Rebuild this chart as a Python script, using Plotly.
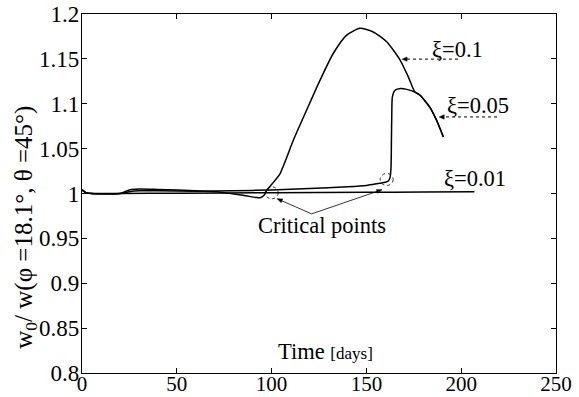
import plotly.graph_objects as go

# ---- data ----
x_xi001 = [0, 2, 5, 20, 50, 100, 150, 180, 207]
y_xi001 = [1.004, 1.001, 1.0, 1.0, 1.0003, 1.0008, 1.0013, 1.0016, 1.002]

x_xi005 = [0, 2, 5, 20, 25, 30, 40, 60, 80, 100, 120, 140, 150, 157, 160, 161.5,
           162.5, 163.0, 163.2, 163.4, 163.7, 165.1, 168.0, 171.3, 175.6, 178.3,
           183.5, 187.0, 190.6]
y_xi005 = [1.004, 1.001, 1.0, 1.0, 1.002, 1.003, 1.003, 1.0025, 1.003, 1.004, 1.0055,
           1.0075, 1.009, 1.0115, 1.0125, 1.014, 1.018, 1.03, 1.06, 1.09, 1.1076,
           1.115, 1.117, 1.116, 1.113, 1.1095, 1.096, 1.0816, 1.063]

x_xi01 = [0, 2, 5, 20, 25, 30, 40, 60, 72.8, 85, 92, 94, 96, 97.4, 100, 104.4,
          111.4, 118.5, 125.5, 132.5, 139.6, 146.6, 153.6, 160.7, 167.7, 172.1,
          175.6, 178.3, 183.5, 187.0, 190.6]
y_xi01 = [1.004, 1.001, 1.0, 1.0, 1.004, 1.005, 1.0045, 1.003, 1.0015, 0.998,
          0.9955, 0.9952, 0.998, 1.0034, 1.01, 1.022, 1.059, 1.093, 1.126, 1.156,
          1.1765, 1.184, 1.180, 1.169, 1.149, 1.130, 1.113, 1.1095, 1.096,
          1.0816, 1.063]

x_ticks = [0, 50, 100, 150, 200, 250]
y_ticks = [0.8, 0.85, 0.9, 0.95, 1.0, 1.05, 1.1, 1.15, 1.2]
y_tick_labels = ["0.8", "0.85", "0.9", "0.95", "1", "1.05", "1.1", "1.15", "1.2"]

FONT = "Liberation Serif"
X_RANGE = [0, 250]
Y_RANGE = [0.8, 1.2]
W, H = 579, 397
M = dict(l=82, r=23, t=14, b=24)
PX_X = (W - M["l"] - M["r"]) / (X_RANGE[1] - X_RANGE[0])   # px per day
PX_Y = (H - M["t"] - M["b"]) / (Y_RANGE[1] - Y_RANGE[0])   # px per unit


def arrow_head(hx, hy, tx, ty, length=6.0, half=2.6):
    """Triangle path (data coords) for an arrowhead at (hx,hy) pointing away from (tx,ty)."""
    dx = (hx - tx) * PX_X
    dy = (hy - ty) * PX_Y
    n = (dx * dx + dy * dy) ** 0.5
    ux, uy = dx / n, dy / n
    bx, by = -ux * length, -uy * length
    px, py = -uy * half, ux * half
    p1 = (hx + (bx + px) / PX_X, hy + (by + py) / PX_Y)
    p2 = (hx + (bx - px) / PX_X, hy + (by - py) / PX_Y)
    return dict(type="path",
                path=f"M {hx},{hy} L {p1[0]},{p1[1]} L {p2[0]},{p2[1]} Z",
                fillcolor="black", line=dict(color="black", width=0.5))


fig = go.Figure()
for xs, ys, name in [(x_xi001, y_xi001, "ξ=0.01"),
                     (x_xi005, y_xi005, "ξ=0.05"),
                     (x_xi01, y_xi01, "ξ=0.1")]:
    fig.add_trace(go.Scatter(x=xs, y=ys, mode="lines", name=name,
                             line=dict(color="black", width=1.5, shape="spline",
                                       smoothing=0.6)))

annotations = []
shapes = []
ANN = 22.5

# curve labels with dotted leader arrows
labels = [
    ("ξ=0.1", 198.0, 1.160, 198.3, 168.8, 1.1497),
    ("ξ=0.05", 208.8, 1.0985, 218.9, 188.4, 1.0853),
]
for txt, tx, ty, tail_x, head_x, yy in labels:
    annotations.append(dict(x=tx, y=ty, text=txt, showarrow=False,
                            font=dict(family=FONT, size=ANN, color="black"),
                            xanchor="center", yanchor="middle"))
    shapes.append(dict(type="line", x0=tail_x, x1=head_x + 2, y0=yy, y1=yy,
                       line=dict(color="black", width=1, dash="dot")))
    shapes.append(arrow_head(head_x, yy, tail_x, yy, length=5, half=2.2))

annotations.append(dict(x=207.5, y=1.0168, text="ξ=0.01", showarrow=False,
                        font=dict(family=FONT, size=ANN, color="black"),
                        xanchor="center", yanchor="middle"))

# critical points
annotations.append(dict(x=126.6, y=0.9642, text="Critical points", showarrow=False,
                        font=dict(family=FONT, size=ANN, color="black"),
                        xanchor="center", yanchor="middle"))
tail = (121.1, 0.9773)
for hx, hy in [(103.0, 0.9941), (158.1, 1.0041)]:
    shapes.append(dict(type="line", x0=tail[0], y0=tail[1], x1=hx, y1=hy,
                       line=dict(color="black", width=0.8)))
    shapes.append(arrow_head(hx, hy, tail[0], tail[1], length=5, half=2.0))
for cx, cy in [(100.05, 1.0008), (160.7, 1.0156)]:
    shapes.append(dict(type="circle", x0=cx - 3.4, x1=cx + 3.4,
                       y0=cy - 0.0067, y1=cy + 0.0067,
                       line=dict(color="black", width=0.8, dash="dot")))

# x-axis title inside plot
annotations.append(dict(x=128.2, y=0.8235,
                        text="Time <span style='font-size:17px'>[days]</span>",
                        showarrow=False, font=dict(family=FONT, size=ANN, color="black"),
                        xanchor="center", yanchor="middle"))

# y-axis title
annotations.append(dict(xref="paper", yref="paper", x=-0.12, y=0.405,
                        text="w<sub>0</sub>/ w(φ =18.1°, θ =45°)",
                        textangle=-90, showarrow=False,
                        font=dict(family=FONT, size=25, color="black"),
                        xanchor="center", yanchor="middle"))

axis_common = dict(ticks="inside", ticklen=5, showline=True, linecolor="black",
                   linewidth=1.3, mirror="ticks", tickcolor="black", tickwidth=1,
                   showgrid=False, zeroline=False, automargin=False)

fig.update_layout(
    template="none",
    width=W, height=H,
    margin=M,
    paper_bgcolor="white", plot_bgcolor="white",
    showlegend=False,
    font=dict(family=FONT, size=21, color="black"),
    annotations=annotations, shapes=shapes,
    xaxis=dict(range=X_RANGE, tickvals=x_ticks, ticklabelstandoff=-8,
               tickfont=dict(family=FONT, size=21, color="black"), **axis_common),
    yaxis=dict(range=Y_RANGE, tickvals=y_ticks, ticktext=y_tick_labels,
               ticklabelstandoff=-3,
               tickfont=dict(family=FONT, size=23, color="black"), **axis_common),
)

fig.write_html("out.html",
               config={"displayModeBar": False},
               post_script="document.body.style.margin='0';"
                           "document.body.style.padding='0';")
